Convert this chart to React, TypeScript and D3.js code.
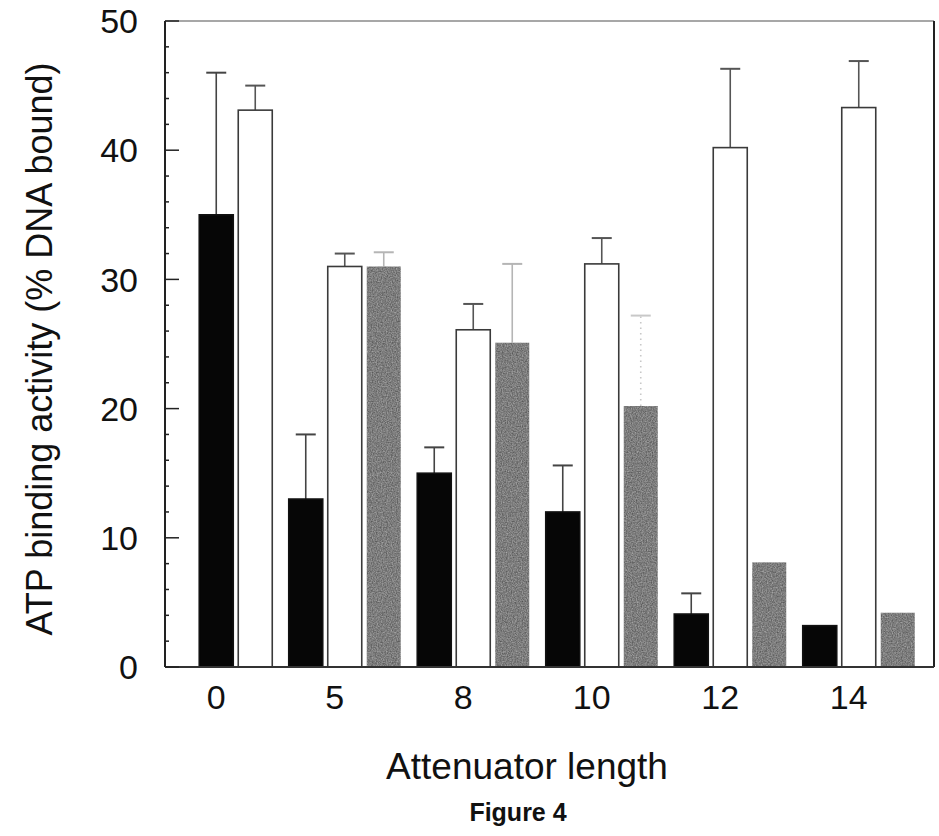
import React from "react";
import * as d3 from "d3";

const categories = ["0", "5", "8", "10", "12", "14"];
const seriesNames = ["black", "white", "grey"];
const blackValues: (number | null)[] = [35, 13, 15, 12, 4.1, 3.2];
const blackErrors: (number | null)[] = [11, 5, 2, 3.6, 1.6, null];
const whiteValues: (number | null)[] = [43.1, 31, 26.1, 31.2, 40.2, 43.3];
const whiteErrors: (number | null)[] = [1.9, 1, 2, 2, 6.1, 3.6];
const greyValues: (number | null)[] = [null, 31, 25.1, 20.2, 8.1, 4.2];
const greyErrors: (number | null)[] = [null, 1.1, 6.1, 7, null, null];
const yTicks = [0, 10, 20, 30, 40, 50];
const yMinorTicks = d3.range(0, 51, 2);

const W = 939;
const H = 836;
const FONT = "'Liberation Sans', Arial, sans-serif";

const styles: Record<string, { fill: string; stroke: string; err: string }> = {
  black: { fill: "#060606", stroke: "#111", err: "#444" },
  white: { fill: "#ffffff", stroke: "#3a3a3a", err: "#555" },
  grey: { fill: "#777777", stroke: "none", err: "#b5b5b5" },
};

export default function App() {
  const left = 165;
  const right = 934;
  const y = d3.scaleLinear().domain([0, 50]).range([667, 21]);
  const x = d3.scaleBand<string>().domain(categories).range([152, 923]);
  const inner = d3
    .scaleBand<number>()
    .domain([0, 1, 2])
    .range([-58.5, 58.5])
    .paddingInner(0.128)
    .paddingOuter(0.064);

  const valuesBySeries: Record<string, (number | null)[]> = {
    black: blackValues,
    white: whiteValues,
    grey: greyValues,
  };
  const errorsBySeries: Record<string, (number | null)[]> = {
    black: blackErrors,
    white: whiteErrors,
    grey: greyErrors,
  };

  const bars: any[] = [];
  const labelX: Record<string, number> = {};
  categories.forEach((c, ci) => {
    const present = seriesNames.filter((s) => valuesBySeries[s][ci] != null);
    const shift = seriesNames.length - present.length;
    const cx = (x(c) as number) + x.bandwidth() / 2;
    labelX[c] = shift > 0 ? cx : cx - 10;
    present.forEach((s, pi) => {
      const v = valuesBySeries[s][ci] as number;
      const e = errorsBySeries[s][ci];
      const bx = cx + (inner(pi + shift) as number);
      bars.push({ key: c + s, s, v, e, bx, bw: inner.bandwidth() });
    });
  });

  return (
    <svg
      width={W}
      height={H}
      style={{ position: "absolute", left: 0, top: 0, background: "#fff" }}
      fontFamily={FONT}
    >
      <defs>
        <filter id="grain" x="0" y="0" width="100%" height="100%" colorInterpolationFilters="sRGB">
          <feTurbulence type="fractalNoise" baseFrequency="0.8" numOctaves={2} seed={3} result="noise" />
          <feColorMatrix
            in="noise"
            type="matrix"
            values="0.42 0 0 0 0.28  0.42 0 0 0 0.28  0.42 0 0 0 0.28  0 0 0 0 1"
            result="g"
          />
          <feComposite in="g" in2="SourceGraphic" operator="in" />
        </filter>
      </defs>
      <rect x={0} y={0} width={W} height={H} fill="#fff" />
      {/* bars */}
      {bars.map((b) => {
        const st = styles[b.s];
        const top = y(b.v);
        const cx = b.bx + b.bw / 2;
        const faint = b.s === "grey" && b.e != null && b.e > 6.5;
        return (
          <g key={b.key}>
            {b.e != null && (
              <g stroke={faint ? "#c8c8c8" : st.err} strokeWidth={1.6}>
                <line
                  x1={cx}
                  x2={cx}
                  y1={top}
                  y2={y(b.v + b.e)}
                  strokeDasharray={faint ? "1.5 4" : undefined}
                />
                <line x1={cx - 10} x2={cx + 10} y1={y(b.v + b.e)} y2={y(b.v + b.e)} strokeWidth={2} />
              </g>
            )}
            <rect
              x={b.bx}
              y={top}
              width={b.bw}
              height={y(0) - top}
              fill={st.fill}
              stroke={st.stroke}
              strokeWidth={1.6}
              filter={b.s === "grey" ? "url(#grain)" : undefined}
            />
          </g>
        );
      })}
      {/* frame */}
      <line x1={left} x2={right} y1={y(50)} y2={y(50)} stroke="#8a8a8a" strokeWidth={1.6} />
      <line x1={right} x2={right} y1={y(50)} y2={y(0)} stroke="#222" strokeWidth={2} />
      <line x1={left} x2={right} y1={y(0)} y2={y(0)} stroke="#333" strokeWidth={2} />
      <line x1={left} x2={left} y1={y(50)} y2={y(0)} stroke="#222" strokeWidth={2} />
      {/* y ticks */}
      {yMinorTicks.map((t) => (
        <line
          key={"m" + t}
          x1={left}
          x2={left + (t % 10 === 0 ? 14 : 4)}
          y1={y(t)}
          y2={y(t)}
          stroke="#222"
          strokeWidth={1.5}
        />
      ))}
      {yTicks.map((t) => (
        <text key={"t" + t} x={138} y={y(t)} dy="0.36em" textAnchor="end" fontSize={34} fill="#111">
          {t}
        </text>
      ))}
      {/* x labels */}
      {categories.map((c) => (
        <text key={"x" + c} x={labelX[c]} y={697} dy="0.36em" textAnchor="middle" fontSize={34} fill="#111">
          {c}
        </text>
      ))}
      <text x={527} y={766} dy="0.36em" textAnchor="middle" fontSize={37} fill="#111">
        Attenuator length
      </text>
      <text x={518} y={812} dy="0.36em" textAnchor="middle" fontSize={25} fontWeight="bold" fill="#111">
        Figure 4
      </text>
      <text
        transform={`translate(39, 349) rotate(-90)`}
        dy="0.36em"
        textAnchor="middle"
        fontSize={36}
        fill="#111"
      >
        ATP binding activity (% DNA bound)
      </text>
    </svg>
  );
}
